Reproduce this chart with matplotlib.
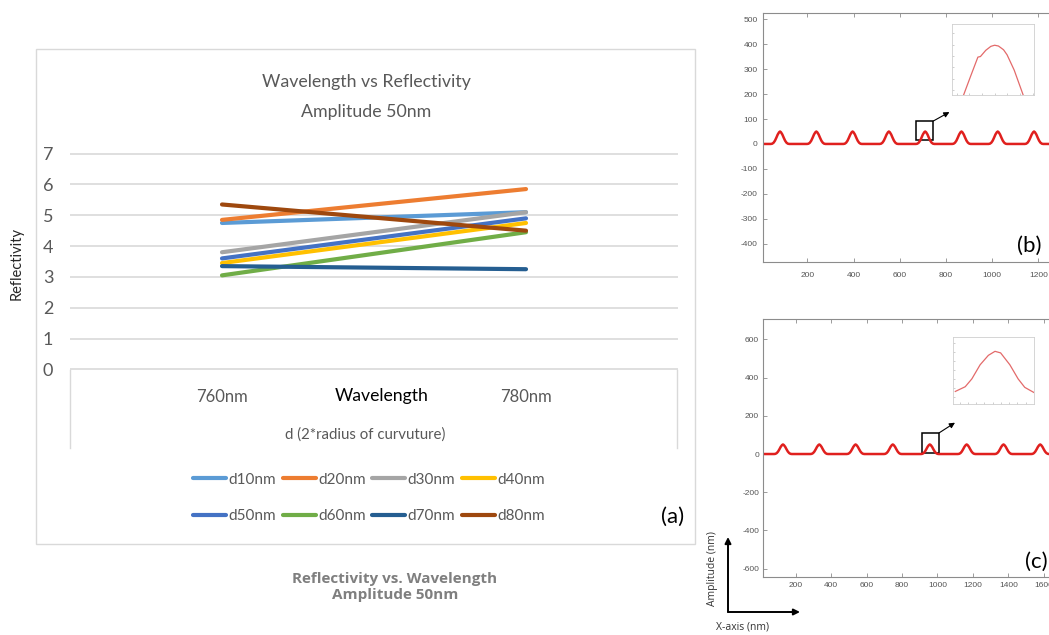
import numpy as np
import matplotlib
matplotlib.use('Agg')
from matplotlib import pyplot as plt
from matplotlib.patches import Rectangle, FancyArrowPatch
from matplotlib.lines import Line2D

plt.rcParams['axes.unicode_minus'] = False

# (a) reflectivity vs wavelength, amplitude 50nm
wavelengths = ['760nm', '780nm']
series_names = ['d10nm', 'd20nm', 'd30nm', 'd40nm', 'd50nm', 'd60nm', 'd70nm', 'd80nm']
refl_760 = [4.75, 4.85, 3.80, 3.45, 3.60, 3.05, 3.35, 5.35]
refl_780 = [5.10, 5.85, 5.10, 4.75, 4.90, 4.45, 3.25, 4.50]
series_colors = ['#5B9BD5', '#ED7D31', '#A5A5A5', '#FFC000',
                 '#4472C4', '#70AD47', '#255E91', '#9E480E']

# (b), (c) surface profiles: peak centres (nm) and one bump shape
b_peaks = [82, 239, 396, 553, 710, 867, 1024, 1181]
c_peaks = [128, 333, 538, 748, 957, 1165, 1373, 1580]
bump_offset = [-1.0, -0.85, -0.7, -0.55, -0.4, -0.25, -0.1, 0.0, 0.1, 0.25, 0.4, 0.55, 0.7, 0.85, 1.0]
bump_height = [0, 1, 5, 13, 25, 38, 47, 50, 47, 38, 25, 13, 5, 1, 0]

# zoomed insets
b_inset_x = [0.56, 1.12, 1.68, 1.88, 2.3, 2.7, 3.0, 3.3, 3.7, 3.98, 4.54, 5.24]
b_inset_y = [-0.43, 1.25, 2.9, 2.95, 3.5, 3.85, 3.95, 3.88, 3.55, 3.1, 1.75, -0.43]
c_inset_x = [-0.52, 0.68, 1.48, 2.48, 3.48, 4.28, 4.96, 6.08, 7.08, 7.88, 8.96]
c_inset_y = [0.62, 1.14, 2.0, 3.55, 4.59, 5.03, 4.86, 3.55, 2.0, 1.07, 0.52]

W, H = 1049, 635
narrow = ['Liberation Sans Narrow', 'Lato', 'DejaVu Sans']


def fx(px):
    return px / W


def fy(py):
    return 1 - py / H


fig = plt.figure(figsize=(W / 100, H / 100), dpi=100)

# ---------- panel (a) ----------
fig.add_artist(Rectangle((fx(36), fy(544)), fx(695) - fx(36), (544 - 49) / H,
                         transform=fig.transFigure, fill=False, ec='#D9D9D9', lw=1))
axa = fig.add_axes([fx(70), fy(370), fx(678) - fx(70), (370 - 153) / H])
x = np.arange(len(wavelengths))
for i, name in enumerate(series_names):
    axa.plot(x, [refl_760[i], refl_780[i]], color=series_colors[i], lw=3,
             solid_capstyle='round', label=name)
axa.set_xlim(-0.5, 1.5)
axa.set_ylim(-0.02, 7.02)
axa.set_yticks(range(8))
axa.set_xticks(x, wavelengths)
axa.yaxis.grid(True, color='#D9D9D9', lw=1.2)
axa.set_axisbelow(True)
for s in axa.spines.values():
    s.set_visible(False)
axa.tick_params(axis='y', length=0, pad=12, labelsize=13, labelcolor='#595959')
axa.tick_params(axis='x', length=0, pad=14, labelsize=12, labelcolor='#595959')
for t in axa.get_xticklabels() + axa.get_yticklabels():
    t.set_family(narrow)

for xx in (70, 677):
    fig.add_artist(Line2D([fx(xx), fx(xx)], [fy(370), fy(448)], color='#D9D9D9', lw=1))

fig.text(fx(366), fy(82), 'Wavelength vs Reflectivity', ha='center', va='center',
         fontsize=12.8, color='#595959', family=narrow)
fig.text(fx(366), fy(112), 'Amplitude 50nm', ha='center', va='center',
         fontsize=12.8, color='#595959', family=narrow)
fig.text(fx(17), fy(264), 'Reflectivity', rotation=90, ha='center', va='center',
         fontsize=10.5, color='#262626', family=['Lato', 'DejaVu Sans'])
fig.text(fx(382), fy(396), 'Wavelength', ha='center', va='center',
         fontsize=12.7, color='black', family=narrow)
fig.text(fx(365), fy(435), 'd (2*radius of curvuture)', ha='center', va='center',
         fontsize=10.8, color='#595959', family=narrow)
fig.text(fx(673), fy(517), '(a)', ha='center', va='center',
         fontsize=16, color='black', family=['Lato', 'DejaVu Sans'])

lines = axa.get_lines()
order = [0, 4, 1, 5, 2, 6, 3, 7]
fig.legend([lines[i] for i in order], [series_names[i] for i in order], ncol=4,
           loc='center', bbox_to_anchor=(fx(369), fy(498)), frameon=False,
           prop={'family': narrow, 'size': 11}, labelcolor='#595959',
           handlelength=2.15, handletextpad=0.15, columnspacing=0.45, labelspacing=1.5)

fig.text(fx(395), fy(587), 'Reflectivity vs. Wavelength\nAmplitude 50nm', ha='center',
         va='center', fontsize=11, fontweight='bold', color='#7F7F7F',
         family=['Open Sans', 'DejaVu Sans'], linespacing=1.15)


# ---------- panels (b), (c) ----------
def profile(peaks, half, xmax):
    xs, ys = [0], [0]
    for p in peaks:
        for o, h in zip(bump_offset, bump_height):
            xs.append(p + o * half)
            ys.append(h)
    xs.append(xmax)
    ys.append(0)
    return xs, ys


def style_matlab(ax, xpad, ypad):
    for s in ax.spines.values():
        s.set_color('#8C8C8C')
        s.set_linewidth(0.8)
    ax.tick_params(direction='in', length=3, top=True, right=True, width=0.6,
                   color='#8C8C8C', labelsize=6, labelcolor='#555555')
    ax.tick_params(axis='x', pad=xpad)
    ax.tick_params(axis='y', pad=ypad)
    for t in ax.get_xticklabels() + ax.get_yticklabels():
        t.set_family(['Liberation Sans', 'DejaVu Sans'])


def style_inset(ax):
    for s in ax.spines.values():
        s.set_color('#CFCFCF')
        s.set_linewidth(0.6)
    ax.tick_params(direction='in', length=1.5, width=0.4, color='#AAAAAA',
                   labelbottom=False, labelleft=False)


# (b)
axb = fig.add_axes([fx(762.7), fy(262), fx(1065) - fx(762.7), (262 - 12.7) / H])
bx, by = profile(b_peaks, 40, 1320)
axb.plot(bx, by, color='#E0201E', lw=1.8)
axb.set_xlim(7, 1315)
axb.set_ylim(-474, 527)
axb.set_xticks(range(200, 1201, 200))
axb.set_yticks(range(-400, 501, 100))
style_matlab(axb, 7, 3.5)
axb.add_patch(Rectangle((670, 15), 72, 78, fill=False, ec='black', lw=1.1))
axb.annotate('', xy=(815, 128), xytext=(745, 92),
             arrowprops=dict(arrowstyle='-|>', color='black', lw=0.8,
                             mutation_scale=8, shrinkA=0, shrinkB=0))
fig.text(fx(1017), fy(246), '(b)', ha='left', va='center', fontsize=16,
         color='black', family=['Lato', 'DejaVu Sans'])

insb = fig.add_axes([fx(952), fy(95), fx(1034) - fx(952), (95 - 24.3) / H])
insb.plot(b_inset_x, b_inset_y, color='#E36A6A', lw=0.9)
insb.set_xlim(-0.36, 6.1)
insb.set_ylim(-0.45, 5.8)
insb.set_xticks(range(7))
insb.set_yticks(range(6))
style_inset(insb)

# (c)
axc = fig.add_axes([fx(763.3), fy(576.7), fx(1065) - fx(763.3), (576.7 - 319.3) / H])
cx, cy = profile(c_peaks, 50, 1730)
axc.plot(cx, cy, color='#E0201E', lw=1.8)
axc.set_xlim(17, 1720)
axc.set_ylim(-642, 705)
axc.set_xticks(range(200, 1601, 200))
axc.set_yticks(range(-600, 601, 200))
style_matlab(axc, 4, 3)
axc.add_patch(Rectangle((911, 7), 99, 104, fill=False, ec='black', lw=1.1))
axc.annotate('', xy=(1099, 164), xytext=(1010, 111),
             arrowprops=dict(arrowstyle='-|>', color='black', lw=0.8,
                             mutation_scale=8, shrinkA=0, shrinkB=0))
fig.text(fx(1025), fy(562), '(c)', ha='left', va='center', fontsize=16,
         color='black', family=['Lato', 'DejaVu Sans'])

insc = fig.add_axes([fx(953), fy(404), fx(1034) - fx(953), (404 - 336.5) / H])
insc.plot(c_inset_x, c_inset_y, color='#E36A6A', lw=0.9)
insc.set_xlim(-0.8, 9.0)
insc.set_ylim(-0.76, 6.66)
insc.set_xticks(range(9))
insc.set_yticks(range(7))
style_inset(insc)

# axis direction key
for end in ((728, 537), (800, 612)):
    fig.add_artist(FancyArrowPatch((fx(728), fy(612)), (fx(end[0]), fy(end[1])),
                                   transform=fig.transFigure, arrowstyle='-|>',
                                   mutation_scale=9, lw=1.4, color='black',
                                   shrinkA=0, shrinkB=0))
fig.text(fx(712), fy(569), 'Amplitude (nm)', rotation=90, ha='center', va='center',
         fontsize=7.5, color='#333333', family=['Open Sans', 'DejaVu Sans'])
fig.text(fx(742), fy(627), 'X-axis (nm)', ha='center', va='center',
         fontsize=7.5, color='#333333', family=['Open Sans', 'DejaVu Sans'])

fig.savefig('out.png', dpi=100)
